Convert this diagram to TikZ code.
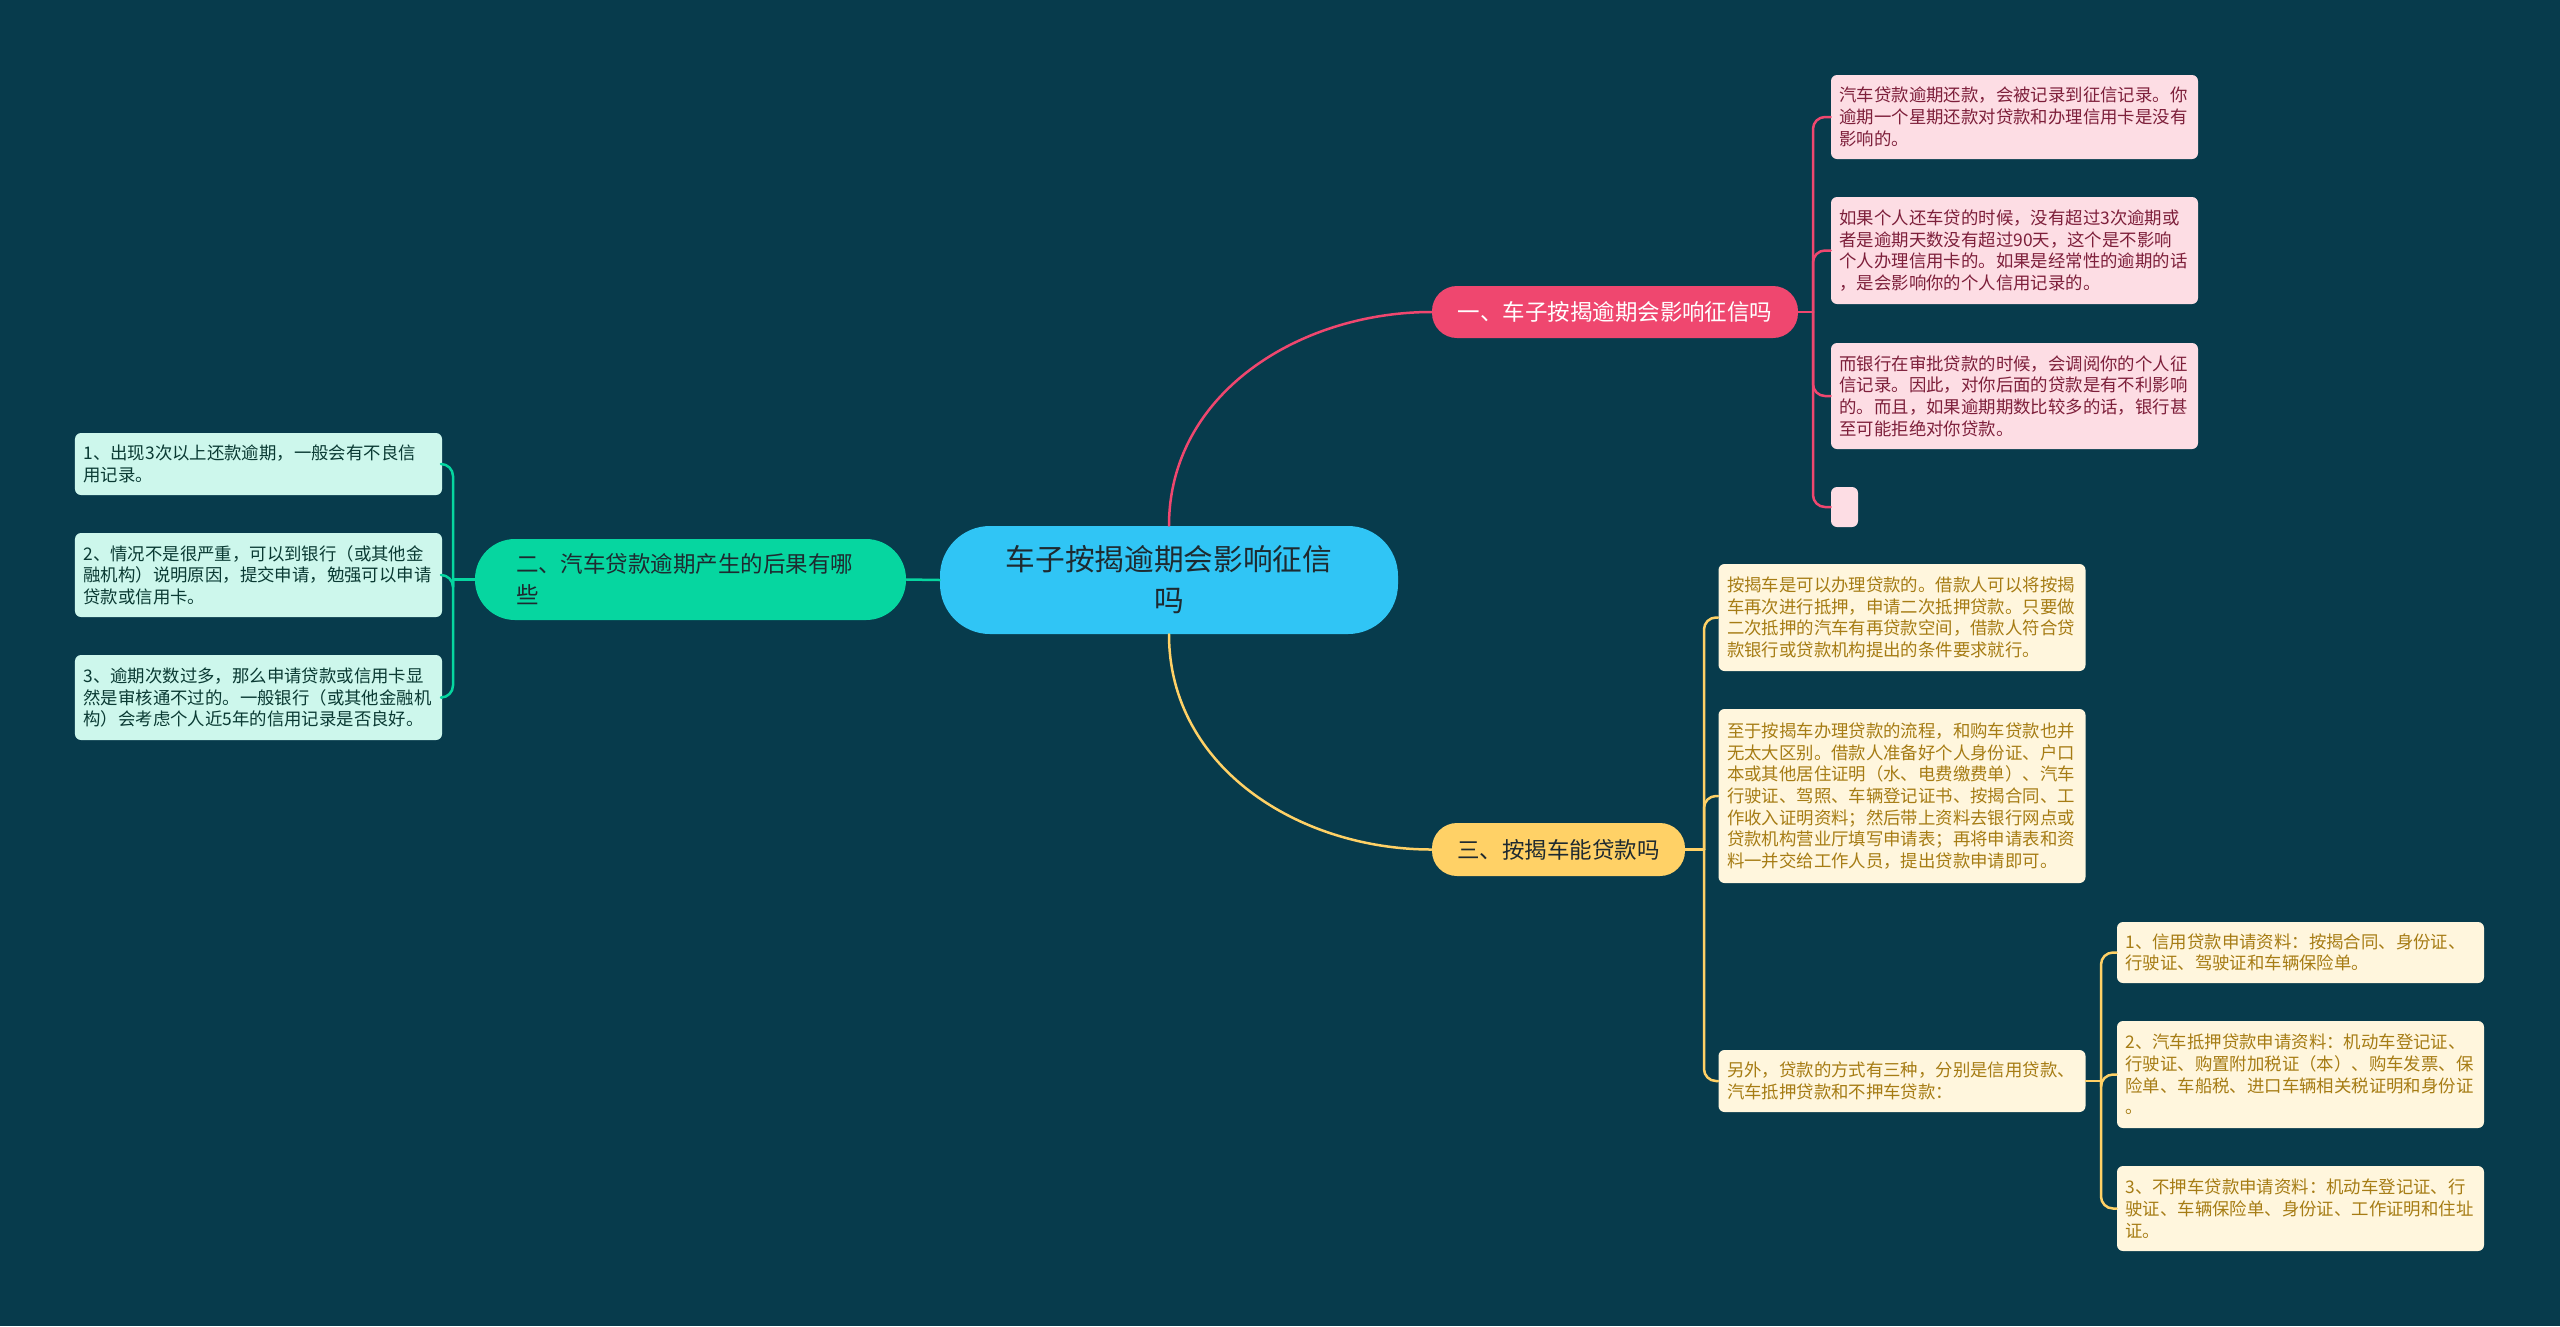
\documentclass[tikz,border=0pt]{standalone}
\usepackage{fontspec}
\setmainfont{Noto Sans CJK SC}
\definecolor{bgc}{HTML}{073B4C}
\definecolor{rootc}{HTML}{30C5F5}
\definecolor{pinkc}{HTML}{EF476F}
\definecolor{tealc}{HTML}{06D6A0}
\definecolor{yelc}{HTML}{FFD166}
\definecolor{pinkl}{HTML}{FDDDE4}
\definecolor{teall}{HTML}{CDF7EC}
\definecolor{yell}{HTML}{FFF6DD}
\definecolor{pinkt}{HTML}{7D1F3A}
\definecolor{tealt}{HTML}{0A3A33}
\definecolor{yelt}{HTML}{A67C14}
\definecolor{darkt}{HTML}{1E2A30}
\begin{document}
\begin{tikzpicture}[x=0.2mm, y=-0.2mm, line cap=round, line join=round,
	leaf/.style={rounded corners=1.2mm, align=left, inner xsep=1.7mm, inner ysep=0pt,
		text width=70mm, font={\fontsize{9.9}{12.35}\selectfont}},
	pleaf/.style={leaf, fill=pinkl, text=pinkt},
	tleaf/.style={leaf, fill=teall, text=tealt},
	yleaf/.style={leaf, fill=yell, text=yelt},
	branch/.style={inner sep=0pt, font={\fontsize{12.8}{17.6}\selectfont}},
	plink/.style={draw=pinkc, line width=0.5mm},
	tlink/.style={draw=tealc, line width=0.5mm},
	ylink/.style={draw=yelc, line width=0.5mm}]
	\useasboundingbox (0,0) rectangle (2560,1326);
	\fill[bgc] (0,0) rectangle (2560,1326);
	\node[fill=rootc, text=darkt, rounded corners=10mm, minimum width=91.6mm, minimum height=21.6mm,
		align=center, font={\fontsize{16.9}{23.3}\selectfont}] (root) at (1169,580) {车子按揭逾期会影响征信\\吗};
	\node[branch, fill=pinkc, text=white, rounded corners=5mm, minimum width=73.2mm,
		minimum height=10.4mm] (b1) at (1615,312) {一、车子按揭逾期会影响征信吗};
	\node[branch, fill=tealc, text=darkt, rounded corners=8mm, minimum width=86.2mm,
		minimum height=16.2mm, text width=69.8mm, align=left] (b2) at (690.5,579.5) {二、汽车贷款逾期产生的后果有哪\\些};
	\node[branch, fill=yelc, text=darkt, rounded corners=5mm, minimum width=50.6mm,
		minimum height=10.6mm] (b3) at (1558.5,849.5) {三、按揭车能贷款吗};
	\node[pleaf, minimum height=16.8mm] (p1) at (2014.5,117) {汽车贷款逾期还款，会被记录到征信记录。你\\逾期一个星期还款对贷款和办理信用卡是没有\\影响的。};
	\node[pleaf, minimum height=21.4mm] (p2) at (2014.5,250.5) {如果个人还车贷的时候，没有超过3次逾期或\\者是逾期天数没有超过90天，这个是不影响\\个人办理信用卡的。如果是经常性的逾期的话\\，是会影响你的个人信用记录的。};
	\node[pleaf, minimum height=21.2mm] (p3) at (2014.5,396) {而银行在审批贷款的时候，会调阅你的个人征\\信记录。因此，对你后面的贷款是有不利影响\\的。而且，如果逾期期数比较多的话，银行甚\\至可能拒绝对你贷款。};
	\node[fill=pinkl, rounded corners=1.2mm, inner sep=0pt, minimum width=5.4mm, minimum height=8mm] (p4) at (1844.5,507) {};
	\node[tleaf, minimum height=12.4mm] (t1) at (258.5,464) {1、出现3次以上还款逾期，一般会有不良信\\用记录。};
	\node[tleaf, minimum height=16.8mm] (t2) at (258.5,575) {2、情况不是很严重，可以到银行（或其他金\\融机构）说明原因，提交申请，勉强可以申请\\贷款或信用卡。};
	\node[tleaf, minimum height=17mm] (t3) at (258.5,697.5) {3、逾期次数过多，那么申请贷款或信用卡显\\然是审核通不过的。一般银行（或其他金融机\\构）会考虑个人近5年的信用记录是否良好。};
	\node[yleaf, minimum height=21.4mm] (y1) at (1902,617.5) {按揭车是可以办理贷款的。借款人可以将按揭\\车再次进行抵押，申请二次抵押贷款。只要做\\二次抵押的汽车有再贷款空间，借款人符合贷\\款银行或贷款机构提出的条件要求就行。};
	\node[yleaf, minimum height=34.8mm] (y2) at (1902,796) {至于按揭车办理贷款的流程，和购车贷款也并\\无太大区别。借款人准备好个人身份证、户口\\本或其他居住证明（水、电费缴费单）、汽车\\行驶证、驾照、车辆登记证书、按揭合同、工\\作收入证明资料；然后带上资料去银行网点或\\贷款机构营业厅填写申请表；再将申请表和资\\料一并交给工作人员，提出贷款申请即可。};
	\node[yleaf, minimum height=12.4mm] (y3) at (1902,1081) {另外，贷款的方式有三种，分别是信用贷款、\\汽车抵押贷款和不押车贷款：};
	\node[yleaf, minimum height=12.2mm] (s1) at (2300.5,952.5) {1、信用贷款申请资料：按揭合同、身份证、\\行驶证、驾驶证和车辆保险单。};
	\node[yleaf, minimum height=21.4mm] (s2) at (2300.5,1074.5) {2、汽车抵押贷款申请资料：机动车登记证、\\行驶证、购置附加税证（本）、购车发票、保\\险单、车船税、进口车辆相关税证明和身份证\\。};
	\node[yleaf, minimum height=17mm] (s3) at (2300.5,1208.5) {3、不押车贷款申请资料：机动车登记证、行\\驶证、车辆保险单、身份证、工作证明和住址\\证。};
	\draw[plink] (root.north) to[out=90, in=180] (b1.west);
	\draw[ylink] (root.south) to[out=-90, in=180] (b3.west);
	\draw[tlink] (root.west) -- (b2.east);
	\coordinate (jp) at (1813,312);
	\coordinate (jt) at (453,579.5);
	\coordinate (jy) at (1704,849.5);
	\coordinate (js) at (2101,1081);
	\draw[plink] (b1.east) -- (jp);
	\draw[tlink] (b2.west) -- (jt);
	\draw[ylink] (b3.east) -- (jy);
	\draw[ylink] (y3.east) -- (js);
	\foreach \n in {p1,p2,p3,p4}
	\draw[plink, rounded corners=2.4mm] (jp) |- (\n.west);
	\foreach \n in {t1,t2,t3}
	\draw[tlink, rounded corners=2.4mm] (jt) |- (\n.east);
	\foreach \n in {y1,y2,y3}
	\draw[ylink, rounded corners=2.4mm] (jy) |- (\n.west);
	\foreach \n in {s1,s2,s3}
	\draw[ylink, rounded corners=2.4mm] (js) |- (\n.west);
\end{tikzpicture}
\end{document}
